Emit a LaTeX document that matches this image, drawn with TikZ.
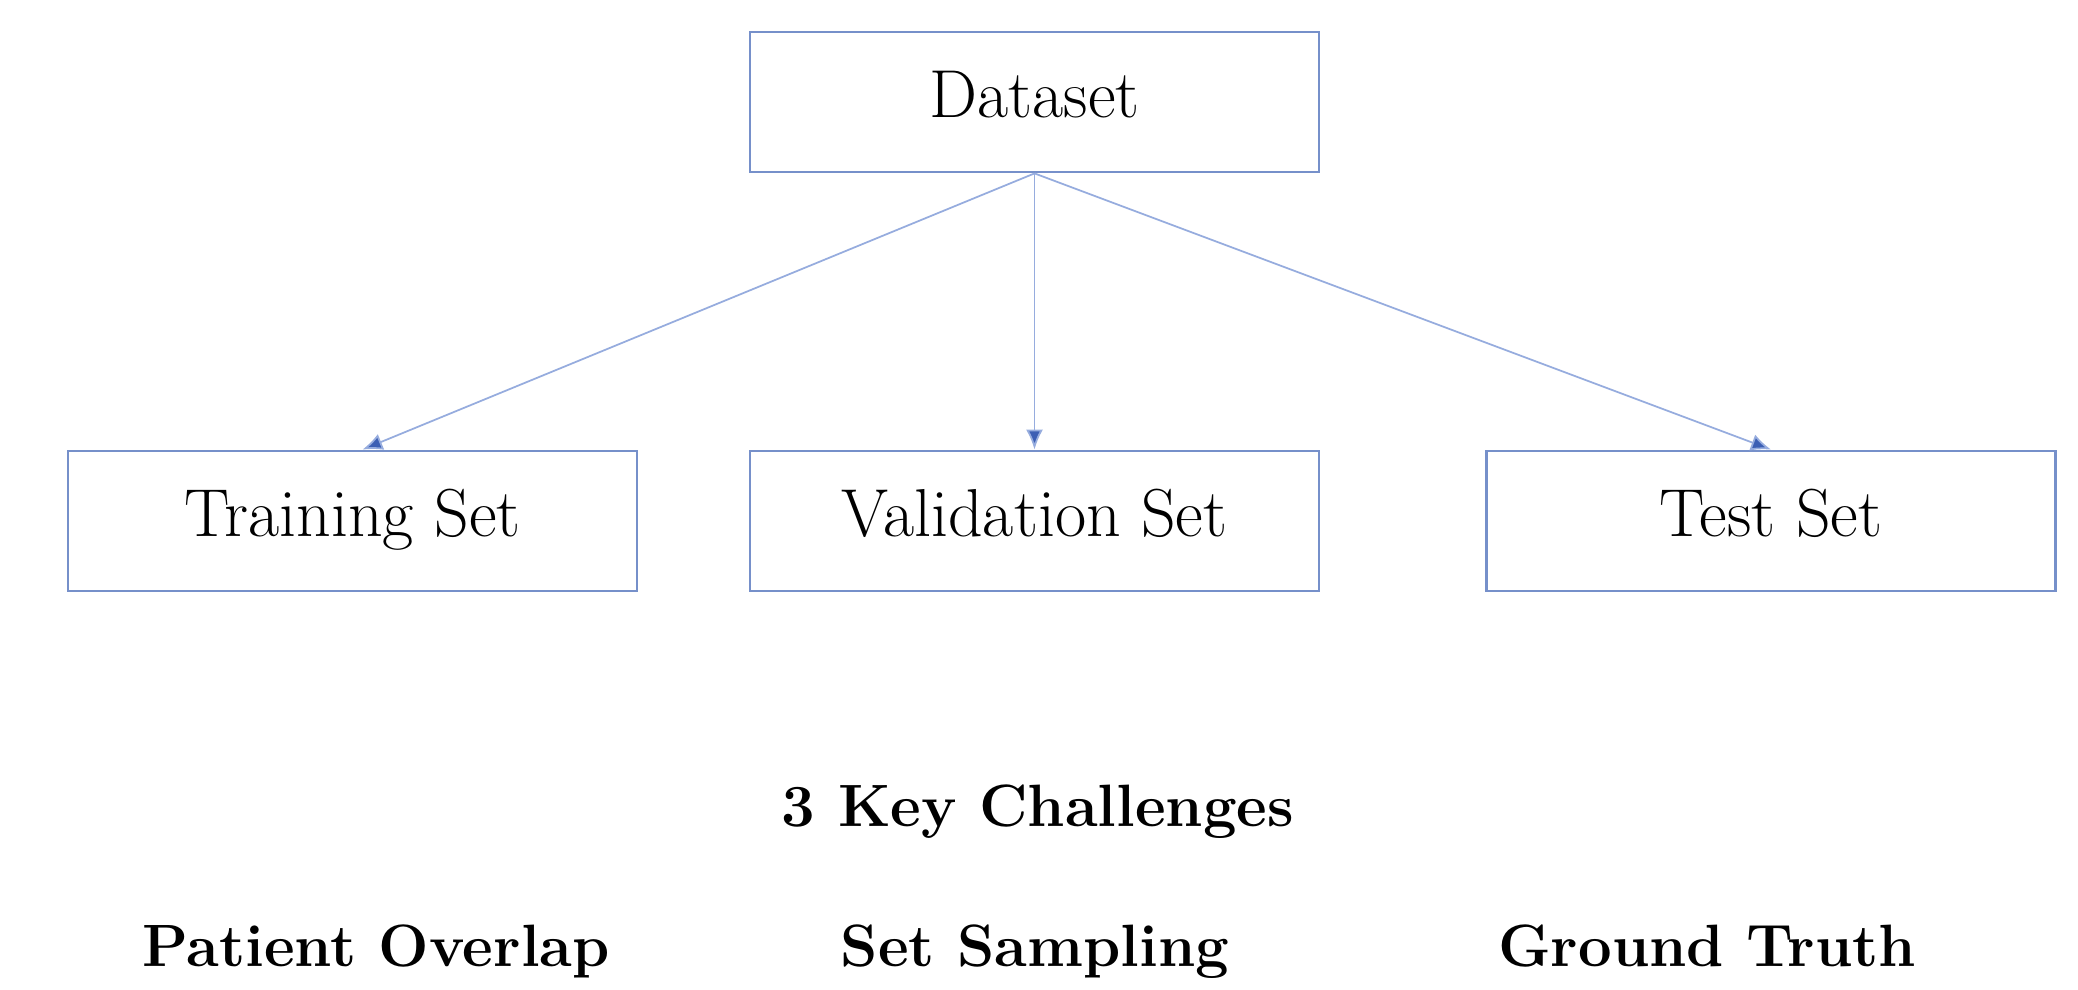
\documentclass[tikz,border=0pt]{standalone}
\usepackage{amsmath, amssymb}
\usepackage{tikz}
\usepackage{xcolor}
\usetikzlibrary{arrows.meta}

\definecolor{boxblue}{RGB}{118,144,202}
\definecolor{lineblue}{RGB}{150,172,222}
\definecolor{tipblue}{RGB}{60,95,180}

\tikzset{
  setbox/.style={draw=boxblue, line width=0.8pt, minimum width=5.69cm, minimum height=1.40cm,
    text height=0.88em, text depth=0em, font=\fontsize{19.3}{22}\selectfont},
  split/.style={draw=lineblue, line width=0.5pt, -{Latex[length=2mm,width=1.7mm,fill=tipblue]}},
  challenge/.style={text height=0.86em, text depth=0em, font=\fontsize{17}{20}\selectfont\bfseries}
}

\begin{document}
\begin{tikzpicture}
\useasboundingbox (0,0) rectangle (20.78,9.9);

% Boxes
\node[setbox] (data) at (10.345,8.88) {Dataset};
\node[setbox] (train) at (3.525,4.69) {Training Set};
\node[setbox] (valid) at (10.345,4.69) {Validation Set};
\node[setbox] (test) at (17.71,4.69) {Test Set};

% Splits
\draw[split] (data.south) -- ([xshift=1mm]train.north);
\draw[split] (data.south) -- (valid.north);
\draw[split] (data.south) -- (test.north);

% Challenges
\node[challenge] (title) at (10.38,1.79) {3 Key Challenges};
\node[challenge] (overlap) at (3.76,0.39) {Patient Overlap};
\node[challenge] (sampling) at (10.35,0.39) {Set Sampling};
\node[challenge] (truth) at (17.07,0.39) {Ground Truth};
\end{tikzpicture}
\end{document}
